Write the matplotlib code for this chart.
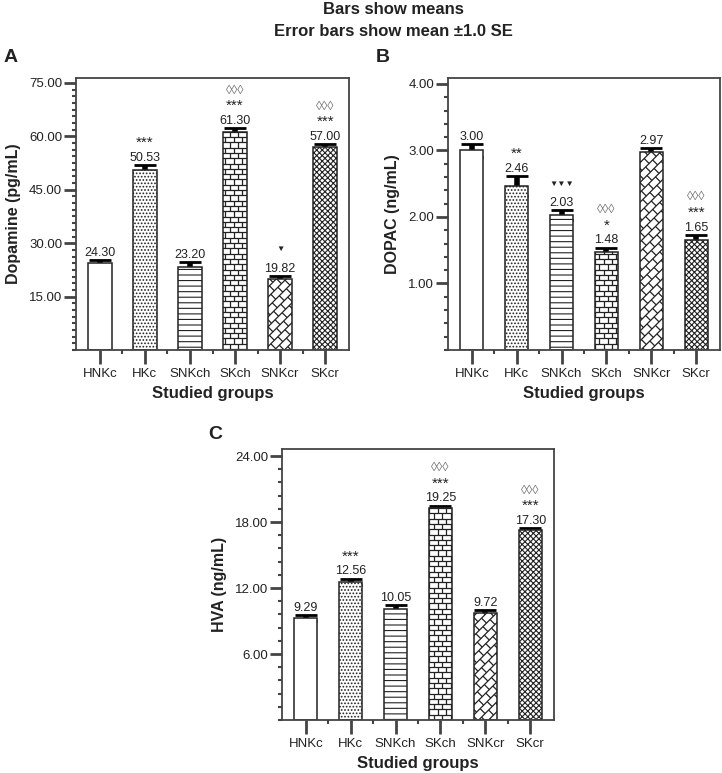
import numpy as np
import matplotlib
matplotlib.use('Agg')
import matplotlib.pyplot as plt
from matplotlib.collections import LineCollection
from matplotlib.transforms import IdentityTransform
from matplotlib.ticker import FixedLocator, AutoMinorLocator, FormatStrFormatter

plt.rcParams['font.family'] = ['Liberation Sans', 'DejaVu Sans']
plt.rcParams['hatch.linewidth'] = 0.8
plt.rcParams['hatch.color'] = '#222222'

groups = ['HNKc', 'HKc', 'SNKch', 'SKch', 'SNKcr', 'SKcr']

dopamine = [24.30, 50.53, 23.20, 61.30, 19.82, 57.00]
dopamine_se = [0.9, 1.3, 1.4, 1.0, 0.9, 0.8]
dopac = [3.00, 2.46, 2.03, 1.48, 2.97, 1.65]
dopac_se = [0.10, 0.15, 0.07, 0.06, 0.07, 0.08]
hva = [9.29, 12.56, 10.05, 19.25, 9.72, 17.30]
hva_se = [0.25, 0.30, 0.40, 0.25, 0.25, 0.15]

# significance marks per bar: (upper line, lower line)
dopamine_sig = [('', ''), ('', '***'), ('', ''), ('◊◊◊', '***'), ('', '▼'), ('◊◊◊', '***')]
dopac_sig = [('', ''), ('', '**'), ('', '▼▼▼'), ('◊◊◊', '*'), ('', ''), ('◊◊◊', '***')]
hva_sig = [('', ''), ('', '***'), ('', ''), ('◊◊◊', '***'), ('', ''), ('◊◊◊', '***')]

# fill style per group
fills = [None, '.....', '---', 'bricks', 'diag', 'xxxxxx']

DARK = '#222222'
FRAME = '#444444'


def brick_lines(bbox, row, length, angle):
    th = np.deg2rad(angle)
    u_dir = np.array([np.cos(th), np.sin(th)])
    v_dir = np.array([-np.sin(th), np.cos(th)])
    corners = np.array([[bbox.x0, bbox.y0], [bbox.x1, bbox.y0],
                        [bbox.x0, bbox.y1], [bbox.x1, bbox.y1]])
    us, vs = corners @ u_dir, corners @ v_dir
    u0, u1 = us.min() - length, us.max() + length
    segs = []
    for k in range(int(np.floor(vs.min() / row)) - 1, int(np.ceil(vs.max() / row)) + 1):
        v = k * row
        segs.append([u0 * u_dir + v * v_dir, u1 * u_dir + v * v_dir])
        shift = (k % 2) * length / 2
        for u in np.arange(np.floor(u0 / length) * length + shift, u1, length):
            segs.append([u * u_dir + v * v_dir, u * u_dir + (v + row) * v_dir])
    return segs


def panel(rect, values, errs, sigs, ylabel, top, step, nminor, letter, letter_xy):
    ax = fig.add_axes(rect)
    x = np.arange(len(groups))
    ax.errorbar(x, values, yerr=errs, fmt='none', ecolor='black', elinewidth=4,
                capsize=8, capthick=2, zorder=1)
    bars = ax.bar(x, values, width=0.52, color='white', edgecolor=DARK,
                  linewidth=1.1, zorder=2)
    ax.set_xlim(-0.53, len(groups) - 0.47)
    ax.set_ylim(0, top)

    for b, fill in zip(bars, fills):
        if fill in ('bricks', 'diag'):
            continue
        if fill:
            b.set_hatch(fill)

    ax.yaxis.set_major_locator(FixedLocator(np.arange(step, top, step)))
    ax.yaxis.set_minor_locator(AutoMinorLocator(nminor))
    ax.yaxis.set_major_formatter(FormatStrFormatter('%.2f'))
    ax.set_xticks(x)
    ax.set_xticklabels(groups)
    ax.set_xticks(x[:-1] + 0.5, minor=True)
    ax.tick_params(axis='y', which='major', length=9, width=2, color=FRAME,
                   labelsize=9.5, labelcolor=DARK, pad=1)
    ax.tick_params(axis='y', which='minor', length=3, width=1.5, color=FRAME)
    ax.tick_params(axis='x', which='major', length=10, width=2, color=FRAME,
                   labelsize=9.5, labelcolor=DARK, pad=3)
    ax.tick_params(axis='x', which='minor', length=3, width=1.5, color=FRAME)
    for s in ax.spines.values():
        s.set_color(FRAME)
        s.set_linewidth(1.3)

    ax.set_ylabel(ylabel, fontsize=11.5, fontweight='bold', color=DARK, labelpad=6)
    ax.set_xlabel('Studied groups', fontsize=12, fontweight='bold', color=DARK, labelpad=4)

    for xi, v, e, (upper, lower) in zip(x, values, errs, sigs):
        y = v + e
        ax.annotate(f'{v:.2f}', (xi, y), xytext=(0, 3), textcoords='offset points',
                    ha='center', va='baseline', fontsize=9, color=DARK)
        if lower:
            small = '▼' in lower
            ax.annotate(lower, (xi, y), xytext=(0, 19 if small else 16),
                        textcoords='offset points', ha='center', va='center',
                        fontsize=6 if small else 11, color=DARK)
        if upper:
            ax.annotate(upper, (xi, y), xytext=(0, 27), textcoords='offset points',
                        ha='center', va='center', fontsize=9, color='#777777')

    fig.text(letter_xy[0] / W, 1 - letter_xy[1] / H, letter, fontsize=14,
             fontweight='bold', color=DARK, ha='left', va='center')
    return ax, bars


W, H = 722, 773
fig = plt.figure(figsize=(W / 100, H / 100), dpi=100)


def px(l, t, r, b):
    return [l / W, 1 - b / H, (r - l) / W, (b - t) / H]


axes = [
    panel(px(76, 78, 349, 350), dopamine, dopamine_se, dopamine_sig,
          'Dopamine (pg/mL)', 76.4, 15, 8, 'A', (4, 58)),
    panel(px(448, 78, 720, 350), dopac, dopac_se, dopac_sig,
          'DOPAC (ng/mL)', 4.09, 1, 5, 'B', (376, 58)),
    panel(px(282, 449, 554, 720), hva, hva_se, hva_sig,
          'HVA (ng/mL)', 24.64, 6, 5, 'C', (208, 434)),
]

# brick-like fills drawn in pixel space and clipped to the bars
for ax, bars in axes:
    for b, fill in zip(bars, fills):
        if fill == 'bricks':
            segs = brick_lines(b.get_window_extent(), 5.3, 8.5, 0)
        elif fill == 'diag':
            segs = brick_lines(b.get_window_extent(), 7, 10, 45)
        else:
            continue
        lc = LineCollection(segs, colors=DARK, linewidths=0.9,
                            transform=IdentityTransform(), zorder=2.1)
        ax.add_collection(lc)
        lc.set_clip_path(b)

fig.text(393 / W, 1 - 10 / H, 'Bars show means', ha='center', va='center',
         fontsize=12, fontweight='bold', color=DARK)
fig.text(393 / W, 1 - 31 / H, 'Error bars show mean ±1.0 SE', ha='center', va='center',
         fontsize=12, fontweight='bold', color=DARK)

fig.savefig('out.png', dpi=100)
